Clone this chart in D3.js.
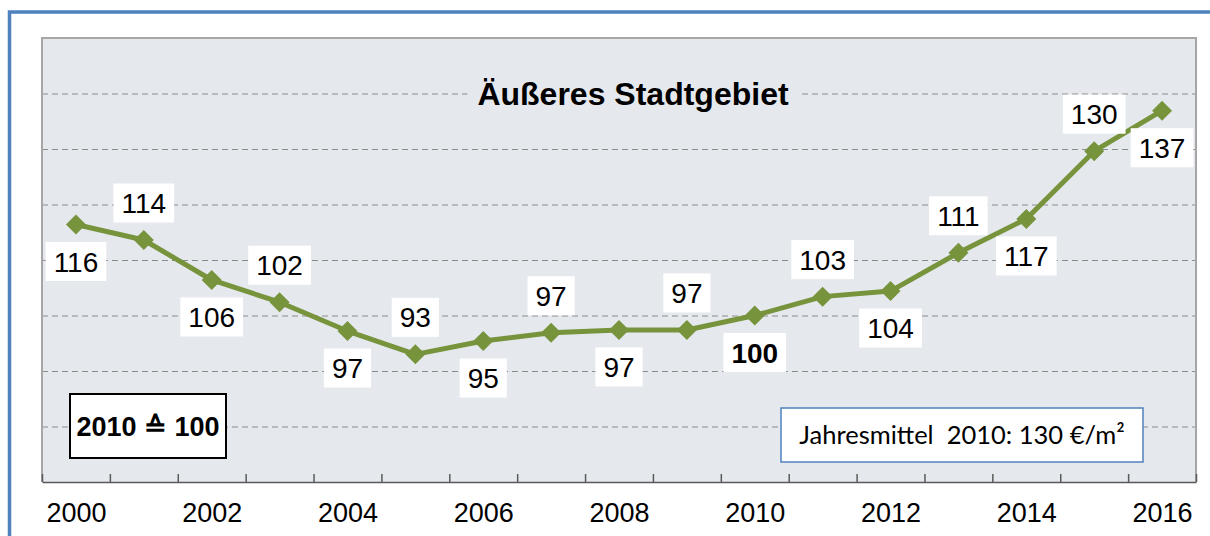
<!DOCTYPE html>
<html>
<head>
<meta charset="utf-8">
<script src="https://cdn.jsdelivr.net/npm/d3@7"></script>
<style>
  body { margin: 0; background: #fff; }
  #chart { width: 1210px; height: 536px; }
</style>
</head>
<body>
<div id="chart"></div>
<script>
// data
var years = [2000, 2001, 2002, 2003, 2004, 2005, 2006, 2007, 2008, 2009, 2010, 2011, 2012, 2013, 2014, 2015, 2016];
var index = [116.4, 113.6, 106.4, 102.4, 97.2, 93.0, 95.4, 96.9, 97.4, 97.4, 100, 103.4, 104.4, 111.3, 117.4, 129.6, 136.9];
var labelSide = ["below", "above", "below", "above", "below", "above", "below", "above", "below", "above", "below", "above", "below", "above", "below", "above", "below"];
var yearLabels = [2000, 2002, 2004, 2006, 2008, 2010, 2012, 2014, 2016];
var gridValues = [80, 90, 100, 110, 120, 130, 140];
var title = "Äußeres Stadtgebiet";
var baseNote = "2010 \u2259 100";
var meanNote = "Jahresmittel  2010: 130 €/m²";

var svgWidth = 1210;
var svgHeight = 536;

// plot area
var margin = { top: 38, right: 14, bottom: 54, left: 42 };
var chartWidth = svgWidth - margin.left - margin.right;
var chartHeight = svgHeight - margin.top - margin.bottom;

var svg = d3.select("#chart")
  .append("svg")
  .attr("width", svgWidth)
  .attr("height", svgHeight)
  .style("font-family", "Arial, 'Liberation Sans', sans-serif");

// outer blue frame (top and left only visible)
svg.append("path")
  .attr("d", `M9.5,${svgHeight} V12 H${svgWidth}`)
  .attr("fill", "none")
  .attr("stroke", "#4f81bd")
  .attr("stroke-width", 3.5);

var chartGroup = svg.append("g")
  .attr("transform", `translate(${margin.left}, ${margin.top})`);

// scales
var xScale = d3.scaleLinear()
  .domain([years[0] - 0.5, years[years.length - 1] + 0.5])
  .range([0, chartWidth]);

var yScale = d3.scaleLinear()
  .domain([70, 150])
  .range([chartHeight, 0]);

// background
chartGroup.append("rect")
  .attr("width", chartWidth)
  .attr("height", chartHeight)
  .attr("fill", "#e5e9ee");

// gridlines
var grid = chartGroup.append("g")
  .call(d3.axisLeft(yScale).tickValues(gridValues).tickSize(-chartWidth).tickFormat(""));
grid.select(".domain").remove();
grid.selectAll("line")
  .attr("stroke", "#8c8c8c")
  .attr("stroke-width", 1.2)
  .attr("stroke-dasharray", "6,4");

// border left/top/right
chartGroup.append("path")
  .attr("d", `M0,${chartHeight} V0 H${chartWidth} V${chartHeight}`)
  .attr("fill", "none")
  .attr("stroke", "#a6a6a6")
  .attr("stroke-width", 2);

// title with background box hiding the gridline
var titleG = chartGroup.append("g");
var titleText = titleG.append("text")
  .attr("x", 591)
  .attr("y", yScale(140) + 11)
  .attr("text-anchor", "middle")
  .style("font-size", "32px")
  .style("font-weight", "bold")
  .attr("fill", "#000")
  .text(title);
var tb = titleText.node().getBBox();
titleG.insert("rect", "text")
  .attr("x", tb.x - 10)
  .attr("y", tb.y)
  .attr("width", tb.width + 20)
  .attr("height", tb.height)
  .attr("fill", "#e5e9ee");

// x axis: tick marks at category boundaries
var tickVals = d3.range(years[0] - 0.5, years[years.length - 1] + 1, 1);
var xAxisTicks = chartGroup.append("g")
  .attr("transform", `translate(0, ${chartHeight})`)
  .call(d3.axisBottom(xScale).tickValues(tickVals).tickSize(-8).tickSizeOuter(0).tickFormat(""));
xAxisTicks.select(".domain").attr("stroke", "#595959").attr("stroke-width", 1.5);
xAxisTicks.selectAll("line").attr("stroke", "#595959").attr("stroke-width", 1.5);

// x axis labels
var xAxisLabels = chartGroup.append("g")
  .attr("transform", `translate(0, ${chartHeight})`)
  .call(d3.axisBottom(xScale).tickValues(yearLabels).tickSize(0).tickPadding(21).tickFormat(d3.format("d")));
xAxisLabels.select(".domain").remove();
xAxisLabels.selectAll("text")
  .style("font-size", "27px")
  .style("font-family", "Arial, 'Liberation Sans', sans-serif")
  .attr("fill", "#000");

// line
var line = d3.line()
  .x((d, i) => xScale(years[i]))
  .y(d => yScale(d));

chartGroup.append("path")
  .datum(index)
  .attr("d", line)
  .attr("fill", "none")
  .attr("stroke", "#77933c")
  .attr("stroke-width", 5)
  .attr("stroke-linejoin", "round");

// diamonds
chartGroup.selectAll("path.marker")
  .data(index)
  .enter()
  .append("path")
  .attr("class", "marker")
  .attr("d", d3.symbol(d3.symbolSquare, 200))
  .attr("transform", (d, i) => `translate(${xScale(years[i])}, ${yScale(d)}) rotate(45)`)
  .attr("fill", "#77933c");

// data labels in white boxes
var labels = chartGroup.selectAll("g.dlabel")
  .data(index)
  .enter()
  .append("g")
  .attr("class", "dlabel")
  .attr("transform", (d, i) => `translate(${xScale(years[i])}, ${yScale(d) + (labelSide[i] === "above" ? -37 : 37)})`);

labels.each(function(d, i) {
  var g = d3.select(this);
  var t = g.append("text")
    .attr("text-anchor", "middle")
    .attr("dy", "0.36em")
    .style("font-size", "28px")
    .style("font-weight", years[i] === 2010 ? "bold" : "normal")
    .attr("fill", "#000")
    .text(d3.format(".0f")(d));
  var w = t.node().getComputedTextLength();
  g.insert("rect", "text")
    .attr("x", -w / 2 - 8)
    .attr("y", -19.5)
    .attr("width", w + 16)
    .attr("height", 39)
    .attr("fill", "#fff");
});

// base year note
var baseG = chartGroup.append("g")
  .attr("transform", `translate(${148 - margin.left}, ${426 - margin.top})`);
baseG.append("rect")
  .attr("x", -78)
  .attr("y", -32)
  .attr("width", 156)
  .attr("height", 64)
  .attr("fill", "#fff")
  .attr("stroke", "#000")
  .attr("stroke-width", 2);
baseG.append("text")
  .attr("text-anchor", "middle")
  .attr("dy", "0.36em")
  .style("font-size", "27px")
  .style("font-weight", "bold")
  .text(baseNote);

// annual mean note
var meanG = chartGroup.append("g")
  .attr("transform", `translate(${962 - margin.left}, ${435 - margin.top})`);
meanG.append("rect")
  .attr("x", -181)
  .attr("y", -27)
  .attr("width", 362)
  .attr("height", 54)
  .attr("fill", "#fff")
  .attr("stroke", "#4f81bd")
  .attr("stroke-width", 1.5);
meanG.append("text")
  .attr("text-anchor", "middle")
  .attr("dy", "0.36em")
  .style("font-size", "25.5px")
  .style("white-space", "pre")
  .style("font-family", "Lato, 'Open Sans', sans-serif")
  .attr("fill", "#000")
  .text(meanNote);
</script>
</body>
</html>
